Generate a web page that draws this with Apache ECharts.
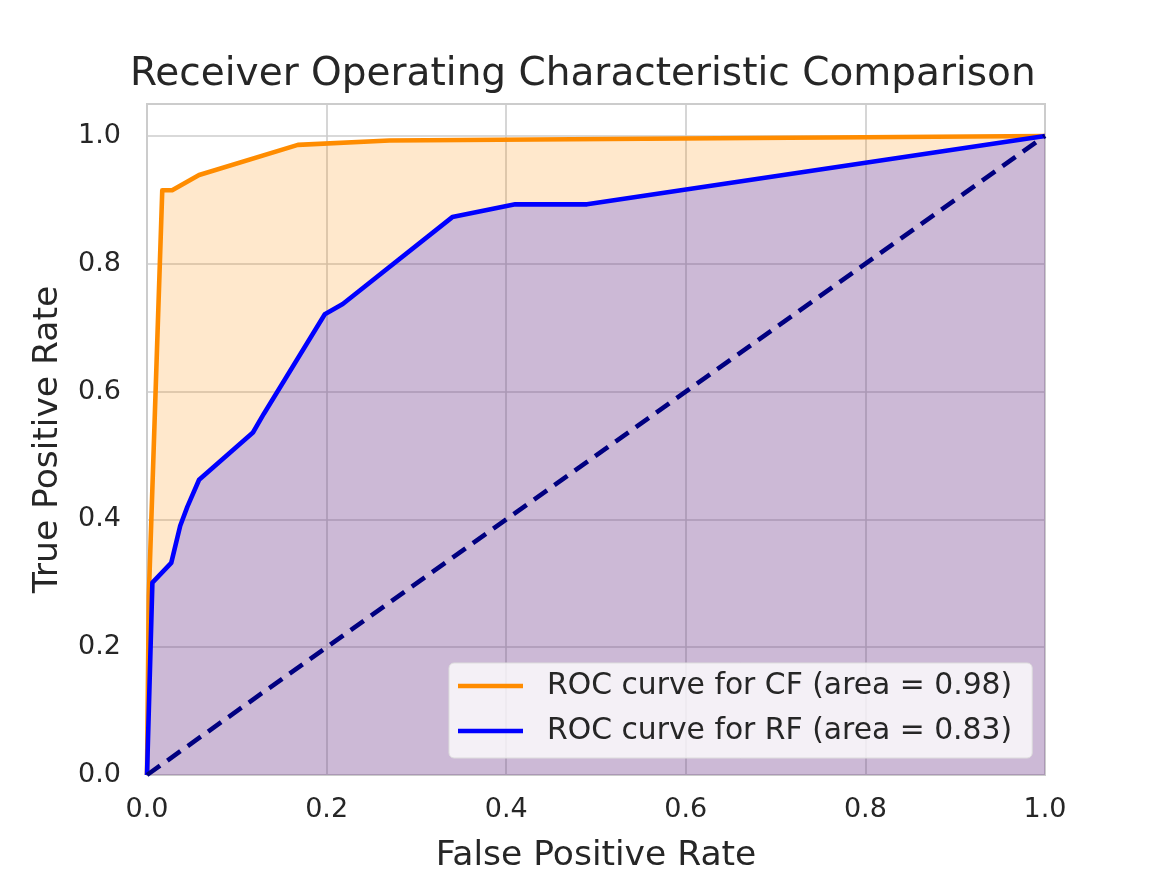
<!DOCTYPE html>
<html><head><meta charset="utf-8">
<script src="https://cdn.jsdelivr.net/npm/echarts@6/dist/echarts.min.js"></script>
<style>html,body{margin:0;padding:0;background:#fff}#c{width:1162px;height:872px}</style>
</head><body><div id="c"></div>
<script>
const cfName = 'ROC curve for CF (area = 0.98)';
const rfName = 'ROC curve for RF (area = 0.83)';
const cfX = [0, 0.002, 0.017, 0.028, 0.058, 0.168, 0.27, 1.0];
const cfY = [0, 0.28, 0.915, 0.915, 0.939, 0.986, 0.993, 1.0];
const rfX = [0, 0.006, 0.027, 0.037, 0.045, 0.058, 0.118, 0.13, 0.198, 0.218, 0.34, 0.41, 0.49, 1.0];
const rfY = [0, 0.301, 0.332, 0.39, 0.42, 0.462, 0.536, 0.565, 0.721, 0.737, 0.873, 0.893, 0.893, 1.0];
const diagX = [0, 1];
const diagY = [0, 1];
const xTicks = [0, 0.2, 0.4, 0.6, 0.8, 1.0];
const yTicks = [0, 0.2, 0.4, 0.6, 0.8, 1.0];

const pairs = (xs, ys) => xs.map((x, i) => [x, ys[i]]);
const font = 'DejaVu Sans';
const chart = echarts.init(document.getElementById('c'), null, {renderer: 'canvas'});
chart.setOption({
  backgroundColor: '#ffffff',
  animation: false,
  textStyle: {fontFamily: font, color: '#262626'},
  title: {
    text: 'Receiver Operating Characteristic Comparison',
    left: 125, top: 50,
    textStyle: {fontFamily: font, fontSize: 39, fontWeight: 'normal', color: '#262626'}
  },
  grid: {left: 147, right: 117, top: 104, bottom: 97, containLabel: false, outerBoundsMode: 'none',
    show: true, borderColor: '#cccccc', borderWidth: 2, backgroundColor: 'transparent'},
  legend: {
    orient: 'vertical', left: 449, top: 663,
    data: [{name: cfName, icon: 'rect'}, {name: rfName, icon: 'rect'}],
    itemWidth: 65, itemHeight: 4.5, itemGap: 15,
    padding: [8, 20, 12, 9],
    backgroundColor: 'rgba(255,255,255,0.78)', borderColor: '#dddddd', borderWidth: 1, borderRadius: 5,
    textStyle: {fontFamily: font, fontSize: 29.8, lineHeight: 30, color: '#262626', padding: [0, 0, 0, 19]}
  },
  xAxis: {
    type: 'value', min: 0, max: 1, interval: 0.2,
    name: 'False Positive Rate', nameLocation: 'middle', nameGap: 64,
    nameTextStyle: {fontFamily: font, fontSize: 34.5, color: '#262626'},
    axisLine: {show: false}, axisTick: {show: false},
    axisLabel: {fontFamily: font, fontSize: 27, color: '#262626', margin: 21, formatter: v => v.toFixed(1)},
    splitLine: {show: true, lineStyle: {color: '#cccccc', width: 1.6}}
  },
  yAxis: {
    type: 'value', min: 0, max: 1.05, interval: 0.2,
    name: 'True Positive Rate', nameLocation: 'middle', nameGap: 81,
    nameTextStyle: {fontFamily: font, fontSize: 34.5, color: '#262626'},
    axisLine: {show: false}, axisTick: {show: false},
    axisLabel: {fontFamily: font, fontSize: 27, color: '#262626', margin: 26, showMaxLabel: false,
      formatter: v => (yTicks.some(t => Math.abs(t - v) < 1e-9) ? v.toFixed(1) : '')},
    splitLine: {show: true, lineStyle: {color: '#cccccc', width: 1.6}}
  },
  series: [
    {
      name: cfName, type: 'line', data: pairs(cfX, cfY), showSymbol: false, symbol: 'none',
      lineStyle: {color: '#ff8c00', width: 4.6, join: 'round'}, itemStyle: {color: '#ff8c00'},
      areaStyle: {color: '#ff8c00', opacity: 0.2, origin: 'start'}, z: 2
    },
    {
      name: rfName, type: 'line', data: pairs(rfX, rfY), showSymbol: false, symbol: 'none',
      lineStyle: {color: '#0000ff', width: 4.6, join: 'round'}, itemStyle: {color: '#0000ff'},
      areaStyle: {color: '#0000ff', opacity: 0.2, origin: 'start'}, z: 3
    },
    {
      name: 'diag', type: 'line', data: pairs(diagX, diagY), showSymbol: false, symbol: 'none',
      lineStyle: {color: '#000080', width: 4.6, type: [16, 9]}, z: 4
    }
  ]
});
</script></body></html>
